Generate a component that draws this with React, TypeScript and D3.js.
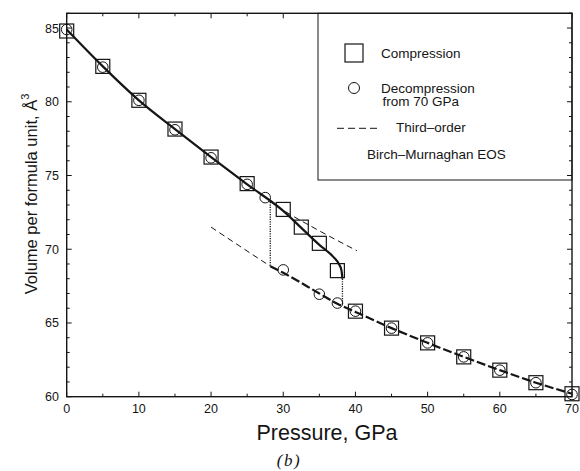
import * as d3 from 'd3'
import { useMemo } from 'react'

// compression (squares)
const compP = [0, 5, 10, 15, 20, 25, 30, 32.5, 35, 37.5, 40, 45, 50, 55, 60, 65, 70]
const compV = [84.8, 82.4, 80.1, 78.15, 76.25, 74.45, 72.7, 71.5, 70.4, 68.55, 65.8, 64.65, 63.65, 62.7, 61.8, 60.95, 60.2]

// decompression from 70 GPa (circles)
const decP = [0, 5, 10, 15, 20, 25, 27.5, 30, 35, 37.5, 40, 45, 50, 55, 60, 65, 70]
const decV = [84.9, 82.35, 80.1, 78.1, 76.2, 74.4, 73.5, 68.6, 66.95, 66.35, 65.8, 64.65, 63.65, 62.7, 61.8, 60.95, 60.15]

// fitted curves
const lowFitP = [0, 5, 10, 15, 20, 25, 30, 32.5, 35, 36, 37, 37.7, 38.05, 38.2]
const lowFitV = [84.9, 82.4, 80.1, 78.15, 76.25, 74.4, 72.6, 71.45, 70.3, 69.9, 69.45, 69.0, 68.6, 68.0]
const highFitP = [28.2, 30, 35, 37.5, 40, 45, 50, 55, 60, 65, 70]
const highFitV = [68.85, 68.4, 67.0, 66.3, 65.75, 64.65, 63.65, 62.7, 61.8, 60.95, 60.2]
const bmUpperP = [28, 30, 35, 40.2]
const bmUpperV = [73.3, 72.65, 71.25, 69.9]
const bmLowerP = [20, 24, 28.2]
const bmLowerV = [71.5, 70.2, 68.85]
const jumpP = [[28.2, 28.2], [38.2, 38.2]]
const jumpV = [[73.2, 68.85], [68.0, 66.2]]

const xTicks = [0, 10, 20, 30, 40, 50, 60, 70]
const yTicks = [60, 65, 70, 75, 80, 85]

const W = 580
const H = 471
const M = { left: 66.7, right: 572, top: 13.3, bottom: 396.7 }
const FONT = 'Liberation Sans, Arial, Helvetica, sans-serif'
const INK = '#151515'

const zip = (xs: number[], ys: number[]) => xs.map((x, i) => [x, ys[i]] as [number, number])

const App = () => {
  const x = useMemo(() => d3.scaleLinear().domain([0, 70]).range([M.left, M.right]), [])
  const y = useMemo(() => d3.scaleLinear().domain([60, 86]).range([M.bottom, M.top]), [])

  const line = d3.line<[number, number]>().x(d => x(d[0])).y(d => y(d[1])).curve(d3.curveMonotoneX)
  const straight = d3.line<[number, number]>().x(d => x(d[0])).y(d => y(d[1]))

  const xMinor = d3.range(0, 70.01, 5)
  const yMinor = d3.range(60, 86.01, 1)

  const lg = { x: 318, y: M.top, w: M.right - 318, h: 180 - M.top }

  return (
    <svg width={W} height={H} style={{ position: 'absolute', left: 0, top: 0, background: '#fff' }}>
      {/* ticks on all four sides, pointing in */}
      <g stroke={INK} strokeWidth={1}>
        {xMinor.map(t => {
          const len = t % 10 === 0 ? 5 : 3
          return (
            <g key={'xt' + t}>
              <line x1={x(t)} x2={x(t)} y1={M.bottom} y2={M.bottom - len} />
              <line x1={x(t)} x2={x(t)} y1={M.top} y2={M.top + len} />
            </g>
          )
        })}
        {yMinor.map(t => {
          const len = t % 5 === 0 ? 5 : 3
          return (
            <g key={'yt' + t}>
              <line x1={M.left} x2={M.left + len} y1={y(t)} y2={y(t)} />
              <line x1={M.right} x2={M.right - len} y1={y(t)} y2={y(t)} />
            </g>
          )
        })}
      </g>

      {/* legend box */}
      <rect x={lg.x} y={lg.y} width={lg.w} height={lg.h} fill="#fff" stroke={INK} strokeWidth={1} />
      <g fontFamily={FONT} fontSize={13.5} fill={INK}>
        <rect x={345} y={44} width={18} height={18} fill="none" stroke={INK} strokeWidth={1.2} />
        <text x={381} y={57.5}>Compression</text>
        <circle cx={354} cy={88} r={5.5} fill="none" stroke={INK} strokeWidth={1} />
        <text x={381} y={92.5}>Decompression</text>
        <text x={382.5} y={106}>from 70 GPa</text>
        <line x1={337} x2={380} y1={128.3} y2={128.3} stroke={INK} strokeWidth={1} strokeDasharray="7,4" />
        <text x={396} y={131.7}>Third–order</text>
        <text x={367} y={158.5}>Birch–Murnaghan EOS</text>
      </g>

      {/* right-side ticks drawn again over the legend */}
      <g stroke={INK} strokeWidth={1}>
        {yMinor.filter(t => y(t) < 180).map(t => (
          <line key={'ry' + t} x1={M.right} x2={M.right - (t % 5 === 0 ? 5 : 3)} y1={y(t)} y2={y(t)} />
        ))}
      </g>

      {/* frame */}
      <rect x={M.left} y={M.top} width={M.right - M.left} height={M.bottom - M.top}
        fill="none" stroke={INK} strokeWidth={1.4} />

      {/* curves */}
      <path d={line(zip(lowFitP, lowFitV)) ?? ''} fill="none" stroke={INK} strokeWidth={2.2} />
      <path d={line(zip(highFitP, highFitV)) ?? ''} fill="none" stroke={INK} strokeWidth={2.2} strokeDasharray="9,3" />
      <path d={line(zip(bmUpperP, bmUpperV)) ?? ''} fill="none" stroke={INK} strokeWidth={1} strokeDasharray="6,4" />
      <path d={line(zip(bmLowerP, bmLowerV)) ?? ''} fill="none" stroke={INK} strokeWidth={1} strokeDasharray="6,4" />
      {jumpP.map((ps, i) => (
        <path key={'j' + i} d={straight(zip(ps, jumpV[i])) ?? ''} fill="none" stroke={INK} strokeWidth={1.3} strokeDasharray="1.2,1.2" />
      ))}

      {/* points */}
      {compP.map((p, i) => (
        <rect key={'s' + i} x={x(p) - 7} y={y(compV[i]) - 7} width={14} height={14}
          fill="none" stroke={INK} strokeWidth={1.2} />
      ))}
      {decP.map((p, i) => (
        <circle key={'c' + i} cx={x(p)} cy={y(decV[i])} r={5.3} fill="none" stroke={INK} strokeWidth={1} />
      ))}

      {/* tick labels */}
      <g fontFamily={FONT} fontSize={12.5} fill={INK}>
        {xTicks.map(t => (
          <text key={'xl' + t} x={x(t)} y={413} textAnchor="middle">{t}</text>
        ))}
        {yTicks.map(t => (
          <text key={'yl' + t} x={59} y={y(t) + 4.5} textAnchor="end">{t}</text>
        ))}
      </g>

      {/* axis titles */}
      <text x={327} y={440} textAnchor="middle" fontFamily={FONT} fontSize={21.5} fill={INK}>Pressure, GPa</text>
      <text transform={`translate(37, 194) rotate(-90)`} textAnchor="middle" fontFamily={FONT} fontSize={16.5} fill={INK}>
        Volume per formula unit, Å<tspan fontSize={11} dy={-8}>3</tspan>
      </text>
      <text x={289} y={466} textAnchor="middle" fontFamily="Liberation Serif, Times New Roman, serif"
        fontStyle="italic" fontSize={17} letterSpacing={1.5} fill={INK}>(b)</text>
    </svg>
  )
}

export default App
